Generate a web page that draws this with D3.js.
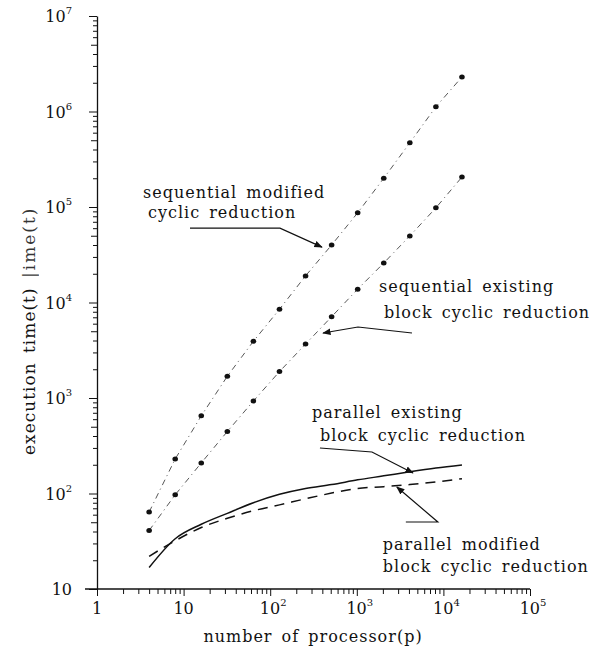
<!DOCTYPE html>
<html>
<head>
<meta charset="utf-8">
<script src="https://cdn.jsdelivr.net/npm/d3@7"></script>
<style>
  body { margin: 0; background: #fff; }
  svg text { font-family: "DejaVu Serif", "Liberation Serif", serif; fill: #111; }
  .tick line, .domain { stroke: #111; }
</style>
</head>
<body>
<div id="chart"></div>
<script>
// number of processors (p) and execution time (t) per method
const procs = [4, 8, 16, 32, 64, 128, 256, 512, 1024, 2048, 4096, 8192, 16384]
const seqModified = [64, 230, 650, 1690, 3930, 8500, 19000, 40000, 87000, 200000, 470000, 1120000, 2300000]
const seqExisting = [41, 97, 209, 446, 930, 1890, 3670, 7100, 13800, 25900, 49800, 98000, 206000]
const parExisting = [16.8, 33.6, 47.6, 62, 80, 98, 113, 124, 139, 153, 169, 185, 199]
const parModified = [22, 32, 44, 55, 66, 76, 88, 101, 113, 118, 124, 132, 143]

const xMajor = [1, 10, 100, 1000, 10000, 100000]
const yMajor = [10, 100, 1000, 10000, 100000, 1000000, 10000000]

// annotation labels, arrow tip given in data units (p, t)
const notes = [
  { lines: ['sequential modified', 'cyclic reduction'], tip: [396, 38000] },
  { lines: ['sequential existing', 'block cyclic reduction'], tip: [407, 4790] },
  { lines: ['parallel existing', 'block cyclic reduction'], tip: [4450, 164] },
  { lines: ['parallel modified', 'block cyclic reduction'], tip: [2900, 117] }
]

const W = 599, H = 653

const svg = d3.select('#chart').append('svg')
  .attr('width', W).attr('height', H)

const x = d3.scaleLog().domain([1, 1e5]).range([97, 530])
const y = d3.scaleLog().domain([10, 1e7]).range([589, 16])

const minorOf = majors => {
  const out = []
  majors.forEach((m, i) => {
    if (i === majors.length - 1) { out.push(m); return }
    for (let k = 1; k < 10; k++) out.push(m * k)
  })
  return out
}

// axes
const yAxisG = svg.append('g')
  .attr('transform', `translate(${x.range()[0]},0)`)
  .call(d3.axisLeft(y).tickValues(minorOf(yMajor)).tickFormat('').tickSize(5).tickSizeOuter(0))
yAxisG.selectAll('.tick line')
  .attr('x2', d => yMajor.includes(d) ? -8 : (d / Math.pow(10, Math.floor(Math.log10(d) + 1e-9)) === 5 ? -6 : -4))

const xAxisG = svg.append('g')
  .attr('transform', `translate(0,${y.range()[0]})`)
  .call(d3.axisBottom(x).tickValues(minorOf(xMajor)).tickFormat('').tickSize(5).tickSizeOuter(0))
xAxisG.selectAll('.tick line')
  .attr('y2', d => xMajor.includes(d) ? 7 : 5)
xAxisG.select('.domain').attr('d', `M${x.range()[0] - 12},0H${x.range()[1]}`)
svg.selectAll('.domain').attr('stroke-width', 1.3)

// tick labels with exponents
const expOf = v => Math.round(Math.log10(v))

svg.append('g').selectAll('text')
  .data(yMajor)
  .join('text')
    .attr('x', 72)
    .attr('y', d => y(d) + 6)
    .attr('text-anchor', 'end')
    .style('font-size', '16px')
    .each(function(d) {
      const t = d3.select(this)
      const e = expOf(d)
      if (e === 1) { t.text('10'); return }
      t.append('tspan').text('10')
      t.append('tspan').attr('dy', -8).style('font-size', '10px').text(e)
    })

svg.append('g').selectAll('text')
  .data(xMajor)
  .join('text')
    .attr('x', d => x(d) + (expOf(d) > 1 ? 3 : 0))
    .attr('y', 614)
    .attr('text-anchor', 'middle')
    .style('font-size', '16px')
    .each(function(d) {
      const t = d3.select(this)
      const e = expOf(d)
      if (e === 0) { t.text('1'); return }
      if (e === 1) { t.text('10'); return }
      t.append('tspan').text('10')
      t.append('tspan').attr('dy', -8).style('font-size', '10px').text(e)
    })

// axis titles
svg.append('text')
  .attr('x', 313).attr('y', 642)
  .attr('text-anchor', 'middle')
  .style('font-size', '16px').style('letter-spacing', '1px').style('word-spacing', '3px')
  .text('number of processor(p)')

svg.append('text')
  .attr('transform', 'translate(35,455) rotate(-90)')
  .style('font-size', '17px').style('letter-spacing', '1px').style('word-spacing', '3px')
  .text('execution time(t)')
svg.append('text')
  .attr('transform', 'translate(35,278) rotate(-90)')
  .style('font-size', '17px').style('letter-spacing', '2px')
  .attr('opacity', 0.85)
  .text('|ime(t)')

// series
const seq = [
  { vals: seqModified, dash: '6,4,1,4' },
  { vals: seqExisting, dash: '6,4,1,4' }
]
const par = [
  { vals: parExisting, dash: null },
  { vals: parModified, dash: '10,7' }
]

const straight = d3.line().x(d => x(d[0])).y(d => y(d[1]))
const smooth = d3.line().x(d => x(d[0])).y(d => y(d[1])).curve(d3.curveMonotoneX)

seq.forEach(s => {
  const pts = procs.map((p, i) => [p, s.vals[i]])
  svg.append('path')
    .datum(pts)
    .attr('d', straight)
    .attr('fill', 'none')
    .attr('stroke', '#444')
    .attr('stroke-width', 0.9)
    .attr('stroke-dasharray', s.dash)
  svg.append('g').selectAll('ellipse')
    .data(pts)
    .join('ellipse')
      .attr('cx', d => x(d[0]))
      .attr('cy', d => y(d[1]))
      .attr('rx', 2.8).attr('ry', 2.5)
      .attr('fill', '#111')
})

par.forEach(s => {
  svg.append('path')
    .datum(procs.map((p, i) => [p, s.vals[i]]))
    .attr('d', smooth)
    .attr('fill', 'none')
    .attr('stroke', '#111')
    .attr('stroke-width', 1.5)
    .attr('stroke-dasharray', s.dash)
})

// annotations: leader offsets and text offsets relative to the arrow tip
const leaders = [
  [[-42, -19], [-132, -19]],
  [[35, -6], [89, 0]],
  [[-41, -21], [-93, -25]],
  [[41, 35], [9, 35]]
]
const textOff = [
  [[-179, -49], [-174, -29]],
  [[56, -41], [61, -15]],
  [[-101, -55], [-93, -32]],
  [[-14, 63], [-14, 85]]
]

svg.append('defs').append('marker')
  .attr('id', 'head')
  .attr('viewBox', '0 0 10 10')
  .attr('refX', 9).attr('refY', 5)
  .attr('markerWidth', 7).attr('markerHeight', 7)
  .attr('orient', 'auto-start-reverse')
  .append('path').attr('d', 'M0,1L10,5L0,9Z').attr('fill', '#111')

notes.forEach((n, i) => {
  const tx = x(n.tip[0]), ty = y(n.tip[1])
  const pts = [[tx, ty]].concat(leaders[i].map(o => [tx + o[0], ty + o[1]]))
  svg.append('path')
    .attr('d', d3.line()(pts))
    .attr('fill', 'none')
    .attr('stroke', '#111')
    .attr('stroke-width', 1.2)
    .attr('marker-start', 'url(#head)')
  n.lines.forEach((line, j) => {
    svg.append('text')
      .attr('x', tx + textOff[i][j][0])
      .attr('y', ty + textOff[i][j][1])
      .style('font-size', '16px')
      .style('letter-spacing', '1px')
      .style('word-spacing', '3px')
      .text(line)
  })
})
</script>
</body>
</html>
